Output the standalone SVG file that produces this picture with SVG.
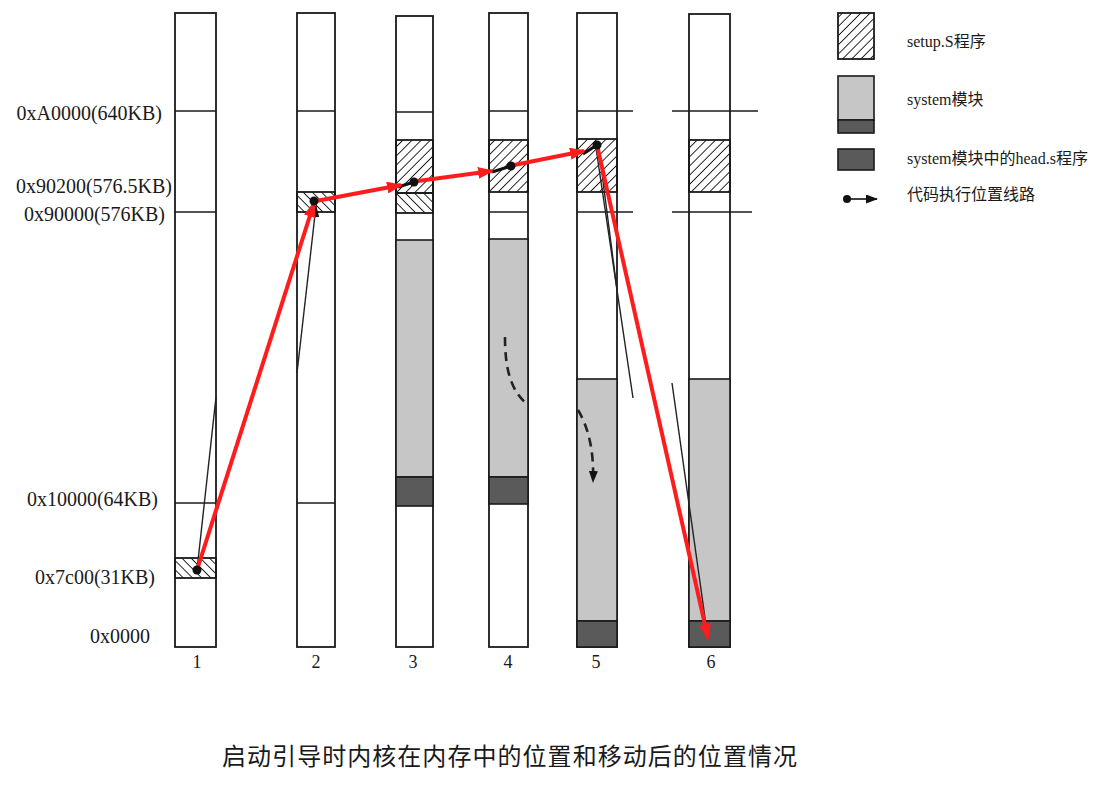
<svg xmlns="http://www.w3.org/2000/svg" width="1104" height="786" viewBox="0 0 1104 786">
<style>
.col{fill:#fff;stroke:#1a1a1a;stroke-width:1.8}
.ln{stroke:#1a1a1a;stroke-width:1.6;fill:none}
.hf{fill:url(#hF);stroke:#1a1a1a;stroke-width:1.8}
.hb{fill:url(#hB);stroke:#1a1a1a;stroke-width:1.8}
.sys{fill:#c6c6c6;stroke:#1a1a1a;stroke-width:1.6}
.head{fill:#5a5a5a;stroke:#1a1a1a;stroke-width:1.6}
.lbl{font-family:"Liberation Serif","DejaVu Serif",serif;font-size:20px;fill:#1a1a1a}
.num{font-family:"Liberation Serif","DejaVu Serif",serif;font-size:18px;fill:#1a1a1a;text-anchor:middle}
.leg{font-family:"Liberation Serif","Noto Sans CJK SC",serif;font-size:16px;fill:#1a1a1a}
.title{font-family:"Noto Sans CJK SC",sans-serif;font-size:24px;fill:#1a1a1a}
.red{stroke:#ff1c1c;stroke-width:4;fill:none;marker-end:url(#ra)}
.thin{stroke:#222;stroke-width:1.4;fill:none}
.dash{stroke:#222;stroke-width:2.6;fill:none;stroke-dasharray:9 6}
.dot{fill:#111}
</style>
<defs>
<pattern id="hF" patternUnits="userSpaceOnUse" width="6.5" height="6.5" patternTransform="rotate(45)">
<line x1="0" y1="0" x2="0" y2="6.5" stroke="#111" stroke-width="1.8"/>
</pattern>
<pattern id="hB" patternUnits="userSpaceOnUse" width="6.5" height="6.5" patternTransform="rotate(-45)">
<line x1="0" y1="0" x2="0" y2="6.5" stroke="#111" stroke-width="1.8"/>
</pattern>
<marker id="ra" markerUnits="userSpaceOnUse" markerWidth="16" markerHeight="12" refX="14" refY="6" orient="auto">
<path d="M0,0 L16,6 L0,12 Z" fill="#ff1c1c"/>
</marker>
<marker id="ba" markerUnits="userSpaceOnUse" markerWidth="12" markerHeight="9" refX="11" refY="4.5" orient="auto">
<path d="M0,0 L12,4.5 L0,9 Z" fill="#111"/>
</marker>
</defs>
<rect width="1104" height="786" fill="#fff"/>

<g id="addr-labels">
<text class="lbl" x="162" y="120" text-anchor="end">0xA0000(640KB)</text>
<text class="lbl" x="172" y="193" text-anchor="end">0x90200(576.5KB)</text>
<text class="lbl" x="165" y="221" text-anchor="end">0x90000(576KB)</text>
<text class="lbl" x="158" y="506" text-anchor="end">0x10000(64KB)</text>
<text class="lbl" x="155" y="584" text-anchor="end">0x7c00(31KB)</text>
<text class="lbl" x="150" y="643" text-anchor="end">0x0000</text>
</g>

<g id="col1">
<rect class="col" x="175" y="13" width="41" height="634"/>
<line class="ln" x1="175" y1="111" x2="216" y2="111"/>
<line class="ln" x1="175" y1="212" x2="216" y2="212"/>
<line class="ln" x1="175" y1="503" x2="216" y2="503"/>
<rect class="hb" x="175" y="558" width="41" height="20"/>
<text class="num" x="197" y="668">1</text>
</g>

<g id="col2">
<rect class="col" x="297" y="13" width="38" height="634"/>
<line class="ln" x1="297" y1="111" x2="335" y2="111"/>
<rect class="hb" x="297" y="192" width="38" height="20"/>
<line class="ln" x1="297" y1="503" x2="335" y2="503"/>
<text class="num" x="316" y="668">2</text>
</g>

<g id="col3">
<rect class="col" x="396" y="16" width="37" height="631"/>
<line class="ln" x1="396" y1="112" x2="433" y2="112"/>
<rect class="hf" x="396" y="140" width="37" height="53"/>
<rect class="hb" x="396" y="193" width="37" height="20"/>
<rect class="sys" x="396" y="240" width="37" height="237"/>
<rect class="head" x="396" y="477" width="37" height="29"/>
<text class="num" x="413" y="668">3</text>
</g>

<g id="col4">
<rect class="col" x="489" y="13" width="39" height="634"/>
<line class="ln" x1="489" y1="111" x2="528" y2="111"/>
<rect class="hf" x="489" y="140" width="39" height="52"/>
<line class="ln" x1="489" y1="212" x2="528" y2="212"/>
<rect class="sys" x="489" y="239" width="39" height="238"/>
<rect class="head" x="489" y="477" width="39" height="27"/>
<text class="num" x="508" y="668">4</text>
</g>

<g id="col5">
<rect class="col" x="577" y="13" width="40" height="634"/>
<line class="ln" x1="577" y1="111" x2="633" y2="111"/>
<rect class="hf" x="577" y="139" width="40" height="53"/>
<line class="ln" x1="577" y1="212" x2="633" y2="212"/>
<rect class="sys" x="577" y="379" width="40" height="242"/>
<rect class="head" x="577" y="621" width="40" height="26"/>
<text class="num" x="596" y="668">5</text>
</g>

<g id="col6">
<rect class="col" x="689" y="14" width="41" height="633"/>
<line class="ln" x1="672" y1="111" x2="758" y2="111"/>
<rect class="hf" x="689" y="140" width="41" height="52"/>
<line class="ln" x1="672" y1="212" x2="752" y2="212"/>
<rect class="sys" x="689" y="379" width="41" height="242"/>
<rect class="head" x="689" y="621" width="41" height="26"/>
<text class="num" x="711" y="668">6</text>
</g>

<g id="legend">
<g id="leg-setup">
<rect class="hf" x="838" y="13" width="36" height="46"/>
<text class="leg" x="907" y="47">setup.S程序</text>
</g>
<g id="leg-system">
<rect class="sys" x="838" y="76" width="36" height="44"/>
<rect class="head" x="838" y="120" width="36" height="13"/>
<text class="leg" x="907" y="105">system模块</text>
</g>
<g id="leg-head">
<rect class="head" x="838" y="149" width="36" height="21"/>
<text class="leg" x="907" y="164">system模块中的head.s程序</text>
</g>
<g id="leg-path">
<circle class="dot" cx="847" cy="199" r="4"/>
<line x1="847" y1="199" x2="877" y2="199" stroke="#111" stroke-width="1.6" marker-end="url(#ba)"/>
<text class="leg" x="907" y="200">代码执行位置线路</text>
</g>
</g>

<g id="connectors">
<line class="thin" x1="197" y1="570" x2="216" y2="397"/>
<line class="thin" x1="297" y1="373" x2="316" y2="206" marker-end="url(#ba)"/>
<line class="thin" x1="596" y1="148" x2="633" y2="398"/>
<line class="thin" x1="599" y1="150" x2="617" y2="290"/>
<line class="thin" x1="672" y1="383" x2="707" y2="632"/>
<line x1="398" y1="187" x2="414" y2="182" stroke="#111" stroke-width="3"/>
<line x1="492" y1="172" x2="511" y2="166" stroke="#111" stroke-width="3"/>
<line x1="583" y1="154" x2="597" y2="145" stroke="#111" stroke-width="3"/>
<path class="dash" d="M505,337 C505,372 512,392 528,405"/>
<path class="dash" d="M578,410 C590,430 594,455 593,482" marker-end="url(#ba)"/>
<line class="red" x1="197" y1="570" x2="314" y2="203"/>
<line class="red" x1="316" y1="201" x2="401" y2="185"/>
<line class="red" x1="418" y1="181" x2="492" y2="171"/>
<line class="red" x1="514" y1="165" x2="584" y2="151"/>
<line class="red" x1="597" y1="145" x2="708" y2="638"/>
<circle class="dot" cx="197" cy="570" r="4.5"/>
<circle class="dot" cx="314" cy="201" r="4.5"/>
<circle class="dot" cx="414" cy="182" r="4.5"/>
<circle class="dot" cx="511" cy="166" r="4.5"/>
<circle class="dot" cx="597" cy="145" r="4.5"/>
</g>

<text class="title" x="222" y="765" textLength="575">启动引导时内核在内存中的位置和移动后的位置情况</text>
</svg>
